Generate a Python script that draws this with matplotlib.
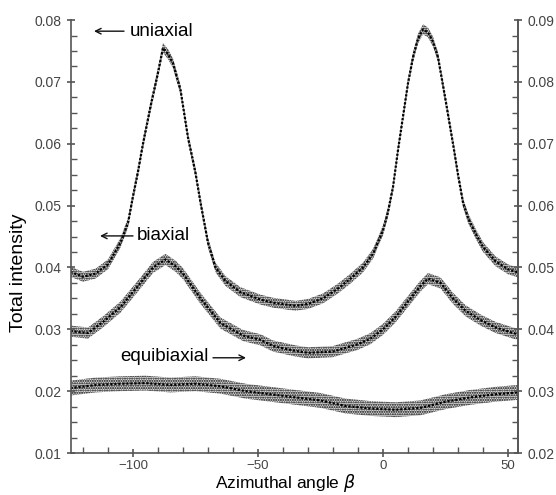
import matplotlib
matplotlib.use("Agg")
import matplotlib.pyplot as plt
import numpy as np
from matplotlib.ticker import MultipleLocator, FormatStrFormatter

# ---- data (left-axis units) ----
uni_x = [-125, -120, -115, -110, -105, -102, -100, -98, -96, -93, -90, -88, -86, -84, -81,
         -78, -75, -73, -70, -67, -63, -57, -49, -44, -35, -30, -24, -18, -13, -8, -4, 0,
         2, 4, 6, 8, 10, 12, 14, 16, 18, 20, 22, 25, 28, 30, 32, 34, 37, 40, 45, 50, 54]
uni_y = [0.0393, 0.0385, 0.0390, 0.0405, 0.0440, 0.0472, 0.0515, 0.0555, 0.0600, 0.0660,
         0.0715, 0.0755, 0.0745, 0.0730, 0.0687, 0.0610, 0.0553, 0.0505, 0.0440, 0.0400,
         0.0378, 0.0360, 0.0348, 0.0343, 0.0338, 0.0341, 0.0350, 0.0366, 0.0382, 0.0400,
         0.0422, 0.0460, 0.0490, 0.0530, 0.0590, 0.0644, 0.0698, 0.0740, 0.0770, 0.0785,
         0.0780, 0.0765, 0.0740, 0.0671, 0.0600, 0.0550, 0.0505, 0.0480, 0.0455, 0.0433,
         0.0410, 0.0397, 0.0392]
uni_spread = 0.0008

bi_x = [-125, -118, -112, -105, -98, -92, -87, -83, -80, -73, -65, -56, -49, -44, -35,
        -30, -20, -10, -5, 0, 5, 10, 15, 18, 23, 28, 33, 39, 45, 52, 54]
bi_y = [0.0297, 0.0294, 0.0312, 0.0336, 0.0370, 0.0400, 0.0413, 0.0402, 0.0390, 0.0350,
        0.0310, 0.0290, 0.0283, 0.0273, 0.0265, 0.0262, 0.0264, 0.0276, 0.0285, 0.0300,
        0.0320, 0.0345, 0.0370, 0.0382, 0.0375, 0.0350, 0.0330, 0.0315, 0.0303, 0.0294,
        0.0292]
bi_spread = 0.0009

eq_x = [-125, -115, -105, -95, -85, -75, -65, -55, -45, -35, -25, -15, -5, 5, 15, 25,
        35, 45, 54]
eq_y = [0.0205, 0.0210, 0.0212, 0.0213, 0.0210, 0.0212, 0.0208, 0.0200, 0.0195, 0.0190,
        0.0185, 0.0176, 0.0172, 0.0170, 0.0173, 0.0183, 0.0190, 0.0195, 0.0198]
eq_spread = 0.0012

labels = ["uniaxial", "biaxial", "equibiaxial"]

# ---- figure ----
plt.rcParams['font.family'] = ['Liberation Sans', 'DejaVu Sans']
plt.rcParams['hatch.linewidth'] = 1.0

fig = plt.figure(figsize=(5.56, 4.95), dpi=100)
ax = fig.add_axes([0.1268, 0.0848, 0.8049, 0.8747])

for xs, ys, sp in [(uni_x, uni_y, uni_spread), (bi_x, bi_y, bi_spread), (eq_x, eq_y, eq_spread)]:
    xa = np.asarray(xs)
    ya = np.asarray(ys)
    ax.fill_between(xa, ya - sp, ya + sp, facecolor='#e2e2e2', edgecolor='#000000',
                    hatch='.......', linewidth=0)
    ax.plot(xa, ya, color='#000000', lw=1.6, ls=(0, (1.0, 0.8)))

ax.set_xlim(-125, 54)
ax.set_ylim(0.01, 0.08)

gray = '#444444'
for s in ['left', 'bottom', 'right']:
    ax.spines[s].set_color('#555555')
    ax.spines[s].set_linewidth(1.2)
ax.spines['top'].set_visible(False)

ax.xaxis.set_major_locator(MultipleLocator(50))
ax.xaxis.set_minor_locator(MultipleLocator(10))
ax.yaxis.set_major_locator(MultipleLocator(0.01))
ax.yaxis.set_minor_locator(MultipleLocator(0.0025))
ax.yaxis.set_major_formatter(FormatStrFormatter('%.2f'))
ax.tick_params(which='major', direction='inout', length=6, width=1.2, color='#555555',
               labelsize=10, labelcolor=gray)
ax.tick_params(which='minor', direction='in', length=4, width=1.0, color='#555555')
ax.tick_params(axis='x', which='both', top=False, pad=2, labelsize=9.5)

ax2 = ax.twinx()
ax2.set_ylim(0.02, 0.09)
ax2.spines['top'].set_visible(False)
ax2.spines['left'].set_visible(False)
ax2.spines['bottom'].set_visible(False)
ax2.spines['right'].set_color('#555555')
ax2.spines['right'].set_linewidth(1.2)
ax2.yaxis.set_major_locator(MultipleLocator(0.01))
ax2.yaxis.set_minor_locator(MultipleLocator(0.0025))
ax2.yaxis.set_major_formatter(FormatStrFormatter('%.2f'))
ax2.tick_params(which='major', direction='inout', length=6, width=1.2, color='#555555',
                labelsize=10, labelcolor=gray)
ax2.tick_params(which='minor', direction='in', length=4, width=1.0, color='#555555')

ax.set_ylabel('Total intensity', fontsize=14)
ax.yaxis.set_label_coords(-0.097, 0.416)
ax.set_xlabel(r'Azimuthal angle $\beta$', fontsize=12.5)
ax.xaxis.set_label_coords(0.48, -0.044)

arrow = dict(arrowstyle='->', color='#111111', lw=1.0, shrinkA=0, shrinkB=0)
# uniaxial
ax.annotate('', xy=(-115.6, 0.0782), xytext=(-103.6, 0.0782), arrowprops=arrow)
ax.text(-101.2, 0.0782, labels[0], fontsize=13.5, va='center', ha='left')
# biaxial
ax.annotate('', xy=(-113.2, 0.0451), xytext=(-100.0, 0.0451), arrowprops=arrow)
ax.text(-98.4, 0.0451, labels[1], fontsize=13.5, va='center', ha='left')
# equibiaxial
ax.text(-69.6, 0.0256, labels[2], fontsize=13.5, va='center', ha='right')
ax.annotate('', xy=(-54.8, 0.0254), xytext=(-68.0, 0.0254), arrowprops=arrow)

fig.savefig('out.png', dpi=100)
